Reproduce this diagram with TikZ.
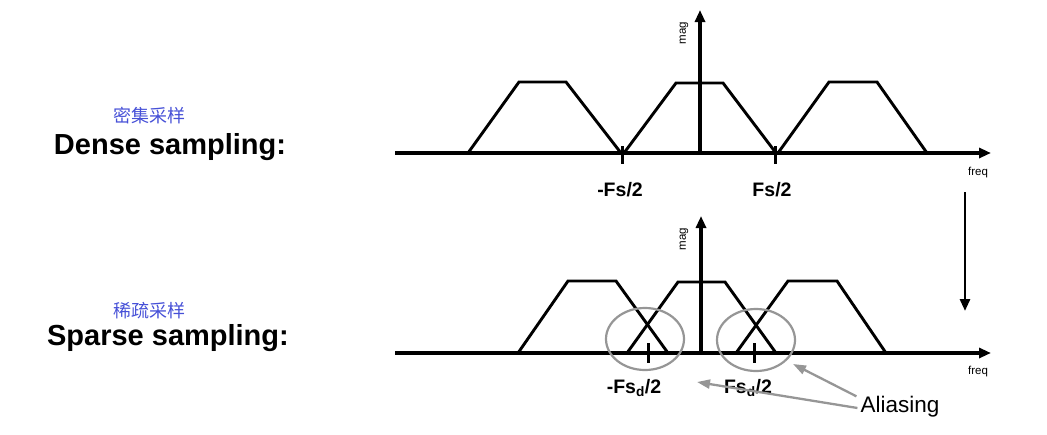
\documentclass[tikz,border=0pt]{standalone}
\usepackage{fontspec}
\setmainfont{Liberation Sans}
\newfontfamily\cjk{Noto Sans CJK SC}
\usetikzlibrary{arrows.meta,shapes.geometric}
\definecolor{cnblue}{RGB}{70,80,215}
\definecolor{ringgray}{RGB}{150,150,150}
\begin{document}
\begin{tikzpicture}[x=1pt,y=-1pt,
  axis/.style={line width=3.2pt,-{Triangle[length=12pt,width=10pt]}},
  sig/.style={line width=2.9pt,line join=miter},
  tickmark/.style={line width=3pt},
  ring/.style={draw=ringgray,line width=2.2pt},
  pointer/.style={draw=ringgray,line width=2.3pt,-{Triangle[length=13pt,width=9pt]},fill=ringgray},
  lbl/.style={font=\bfseries\fontsize{19.5}{21}\selectfont,inner sep=0pt},
  small/.style={font=\fontsize{11.5}{12}\selectfont,inner sep=0pt},
  title/.style={font=\bfseries\fontsize{29}{32}\selectfont,inner sep=0pt},
  cn/.style={font=\cjk\fontsize{18}{20}\selectfont,text=cnblue,inner sep=0pt},
  alias/.style={font=\fontsize{22.5}{24}\selectfont,inner sep=0pt}]
\useasboundingbox (0,0) rectangle (1047,434);

% left titles
\node[cn] (cn1) at (149,116) {密集采样};
\node[title] (t1) at (170,147) {Dense sampling:};
\node[cn] (cn2) at (149,311) {稀疏采样};
\node[title] (t2) at (168,338) {Sparse sampling:};

% ---------- top panel ----------
\coordinate (hx0) at (395,153);
\coordinate (hx1) at (991,153);
\coordinate (vy0) at (700,153);
\coordinate (vy1) at (700,10);
\draw[sig] (468,153) -- (519,82) -- (566,82) -- (621,153);
\draw[sig] (624,153) -- (676,83) -- (723,83) -- (776,153);
\draw[sig] (778,153) -- (829,82) -- (877,82) -- (927,153);
\draw[axis] (hx0) -- (hx1);
\draw[axis] (vy0) -- (vy1);
\coordinate (ta) at (622,146);
\coordinate (tb) at (622,164);
\coordinate (tc) at (775,146);
\coordinate (td) at (775,164);
\draw[tickmark] (ta) -- (tb);
\draw[tickmark] (tc) -- (td);
\node[lbl] (lfs) at (620,190) {-Fs/2};
\node[lbl] (rfs) at (772,190) {Fs/2};
\node[small] (freq1) at (978,173) {freq};
\node[small,rotate=90] (mag1) at (684,33) {mag};

% down arrow
\coordinate (da0) at (965,192);
\coordinate (da1) at (965,311);
\draw[line width=2.8pt,-{Triangle[length=12pt,width=10pt]}] (da0) -- (da1);

% ---------- bottom panel ----------
\coordinate (bx0) at (395,353);
\coordinate (bx1) at (991,353);
\coordinate (bv0) at (701,353);
\coordinate (bv1) at (701,216);
\draw[sig] (518,353) -- (568,281) -- (616,281) -- (668,353);
\draw[sig] (627,353) -- (678,282) -- (725,282) -- (776,353);
\draw[sig] (736,353) -- (788,281) -- (837,281) -- (886,353);
\draw[axis] (bx0) -- (bx1);
\draw[axis] (bv0) -- (bv1);
\coordinate (ba) at (648,343);
\coordinate (bb) at (648,363);
\coordinate (bc) at (754,343);
\coordinate (bd) at (754,363);
\draw[tickmark] (ba) -- (bb);
\draw[tickmark] (bc) -- (bd);
\node[ring,ellipse,minimum width=78pt,minimum height=62pt,draw] (e1) at (645,339) {};
\node[ring,ellipse,minimum width=78pt,minimum height=62pt,draw] (e2) at (756,340) {};
\node[lbl] (lfsd) at (634,388) {-Fs\textsubscript{d}/2};
\node[lbl] (rfsd) at (748,388) {Fs\textsubscript{d}/2};
\node[small] (freq2) at (978,372) {freq};
\node[small,rotate=90] (mag2) at (684,239) {mag};

\node[alias] (al) at (900,407) {Aliasing};
\coordinate (p1) at (697,382);
\coordinate (p2) at (793,364);
\draw[pointer] ([xshift=-3pt,yshift=-1pt]al.west) -- (p1);
\draw[pointer] ([xshift=-4pt]al.north west) -- (p2);
\end{tikzpicture}
\end{document}
